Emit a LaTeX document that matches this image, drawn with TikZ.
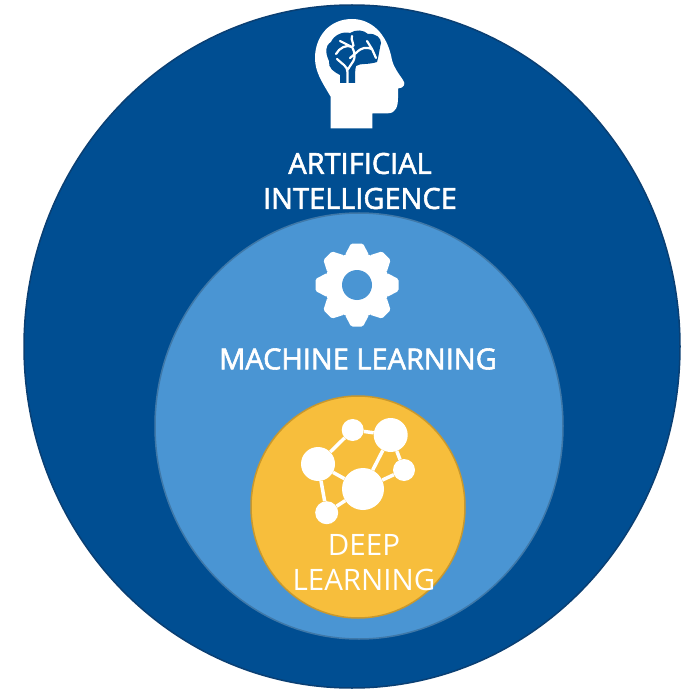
\documentclass[tikz,border=0pt]{standalone}
\usepackage{fontspec}
\setmainfont{Open Sans}
\newfontfamily\heavyfont{Open Sans}[FakeBold=2]
\usetikzlibrary{positioning}
\definecolor{aiblue}{HTML}{004E92}
\definecolor{aiedge}{HTML}{0A3F73}
\definecolor{mlblue}{HTML}{4A95D3}
\definecolor{mledge}{HTML}{3F78A8}
\definecolor{dlgold}{HTML}{F7BE3C}
\definecolor{dledge}{HTML}{C8982E}
\begin{document}
\begin{tikzpicture}[x=1pt, y=-1pt,
    title/.style = {text=white, align=center, font=\heavyfont\fontsize{29}{35}\selectfont},
    softtitle/.style = {text=white, align=center, font=\fontsize{29.5}{35}\selectfont},
    atom/.style = {circle, fill=white, inner sep=0pt},
    bond/.style = {draw=white, line width=3.5pt}]
            \useasboundingbox (0,0) rectangle (694,690);
            % Regions
            \draw[draw=aiedge, fill=aiblue, line width=1.5pt] (352,346.5) ellipse [x radius=328, y radius=341.5];
            \draw[draw=mledge, fill=mlblue, line width=1.5pt] (359,426) ellipse [x radius=204, y radius=213];
            \draw[draw=dledge, fill=dlgold, line width=1.5pt] (358,507) ellipse [x radius=107, y radius=111];
            % Head
            \fill[white] (330.7,128.3) -- (372.3,128.3) -- (372.3,113.3) -- (388,113.3)
                .. controls (396,113.3) and (398,106) .. (398,98) -- (398,88.5)
                .. controls (404,88) and (406,84) .. (403,80)
                .. controls (399,74) and (394,68) .. (392,60)
                .. controls (387,32) and (370,19) .. (352,19)
                .. controls (329,19) and (315,37) .. (315,58)
                .. controls (315,72) and (322,82) .. (330.7,96.7) -- cycle;
            % Brain
            \fill[aiblue] (340,83) -- (340,75)
                .. controls (334,72) and (328,68) .. (329,61)
                .. controls (325,52) and (325,46) .. (331,42)
                .. controls (334,35) and (343,31) .. (350,33)
                .. controls (356,29) and (364,30) .. (368,34)
                .. controls (376,33) and (381,38) .. (381,43)
                .. controls (380,46) and (379,55) .. (377,62)
                .. controls (368,65) and (360,63) .. (356,66)
                .. controls (355,70) and (355,74) .. (355,83) -- cycle;
            \draw[white, line width=2.2pt, line cap=round] (347.5,83) -- (347.5,72)
                .. controls (347.5,66) and (342,64) .. (337,59)
                (347.5,70) .. controls (350,64) and (359,60) .. (352,47)
                .. controls (347,44) and (339,48) .. (336,54)
                (352,47) -- (340,41)
                (352,47) .. controls (356,46) and (350,40) .. (352,36)
                (356,53) .. controls (362,47) and (366,47) .. (372,49)
                (372,49) -- (367,41)
                (372,49) -- (376,58)
                (356,53) -- (350,58);
            % Gear
            \fill[white] (357,285) circle [radius=32.5];
            \foreach \ang in {0,45,...,315}
                \fill[white, shift={(357,285)}, rotate=\ang, rounded corners=1.5pt]
                    (-12,-30) -- (-6,-41.5) -- (6,-41.5) -- (12,-30) -- cycle;
            \fill[mlblue] (357,285) circle [radius=15];
            % Atoms
            \node[atom, minimum size=22pt] (topatom) at (352.7,430) {};
            \node[atom, minimum size=34pt] (peakatom) at (390.7,435) {};
            \node[atom, minimum size=34pt] (leftatom) at (318,464) {};
            \node[atom, minimum size=22pt] (sideatom) at (404,470) {};
            \node[atom, minimum size=42pt] (coreatom) at (363,489) {};
            \node[atom, minimum size=23pt] (footatom) at (326.7,512.7) {};
            % Bonds
            \draw[bond] (leftatom) -- (topatom);
            \draw[bond] (topatom) -- (peakatom);
            \draw[bond] (peakatom) -- (coreatom);
            \draw[bond] (peakatom) -- (sideatom);
            \draw[bond] (sideatom) -- (coreatom);
            \draw[bond] (coreatom) -- (leftatom);
            \draw[bond] (coreatom) -- (footatom);
            \draw[bond] (leftatom) -- (footatom);
            % Labels
            \node[title] (ailabel) at (360,181) {ARTIFICIAL\\INTELLIGENCE};
            \node[title] (mllabel) at (358,359) {MACHINE LEARNING};
            \node[softtitle] (dllabel) at (364,563) {DEEP\\LEARNING};
            \end{tikzpicture}
\end{document}
